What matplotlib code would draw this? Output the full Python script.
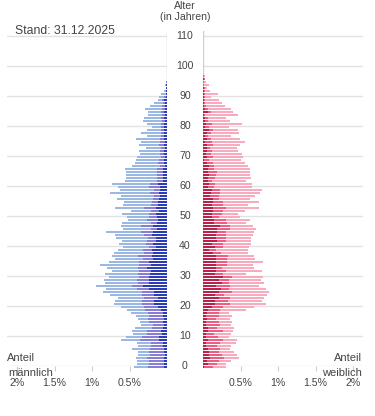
"""Bevölkerungspyramide (Stand 31.12.2025) – Anteile je Altersjahr, männlich/weiblich."""
import matplotlib
matplotlib.use("Agg")
import matplotlib.pyplot as plt
from matplotlib.transforms import blended_transform_factory

plt.rcParams["font.family"] = ["Liberation Sans", "DejaVu Sans"]

# ── Daten (Anteil in %, Altersjahre 0..95 bzw. 0..97) ──
ages_m = list(range(0, 96))
ages_w = list(range(0, 98))

# männlich: Gesamtlänge, innerstes Segment, mittleres Segment
male_total = [
    0.44, 0.40, 0.40, 0.41, 0.39, 0.39, 0.47, 0.39, 0.40, 0.61,
    0.55, 0.45, 0.47, 0.43, 0.35, 0.36, 0.39, 0.41, 0.48, 0.53,
    0.61, 0.71, 0.69, 0.65, 0.76, 0.85, 0.81, 0.95, 0.83, 0.84,
    0.77, 0.83, 0.73, 0.80, 0.89, 0.77, 0.69, 0.73, 0.71, 0.65,
    0.59, 0.64, 0.60, 0.68, 0.69, 0.81, 0.59, 0.61, 0.60, 0.52,
    0.53, 0.60, 0.48, 0.69, 0.59, 0.57, 0.67, 0.61, 0.76, 0.63,
    0.65, 0.73, 0.56, 0.55, 0.55, 0.55, 0.56, 0.47, 0.43, 0.41,
    0.40, 0.36, 0.37, 0.28, 0.37, 0.35, 0.41, 0.27, 0.35, 0.27,
    0.20, 0.27, 0.32, 0.31, 0.25, 0.25, 0.29, 0.23, 0.17, 0.12,
    0.11, 0.08, 0.04, 0.02, 0.03, 0.01,
]
male_inner = [
    0.04, 0.04, 0.04, 0.04, 0.03, 0.04, 0.04, 0.05, 0.05, 0.11,
    0.11, 0.07, 0.08, 0.05, 0.04, 0.05, 0.04, 0.05, 0.05, 0.08,
    0.12, 0.17, 0.17, 0.12, 0.17, 0.17, 0.24, 0.32, 0.24, 0.24,
    0.24, 0.23, 0.21, 0.27, 0.21, 0.24, 0.19, 0.20, 0.19, 0.20,
    0.15, 0.19, 0.15, 0.15, 0.20, 0.19, 0.13, 0.19, 0.13, 0.12,
    0.13, 0.15, 0.11, 0.15, 0.12, 0.12, 0.11, 0.09, 0.11, 0.09,
    0.09, 0.12, 0.05, 0.05, 0.05, 0.05, 0.05, 0.03, 0.04, 0.04,
    0.03, 0.04, 0.04, 0.03, 0.04, 0.03, 0.04, 0.04, 0.04, 0.04,
    0.04, 0.04, 0.03, 0.04, 0.03, 0.04, 0.03, 0.03, 0.03, 0.04,
    0.01, 0.01, 0.01, 0.01, 0.01, 0.00,
]
male_middle = [
    0.21, 0.20, 0.20, 0.23, 0.20, 0.20, 0.19, 0.16, 0.16, 0.25,
    0.23, 0.20, 0.19, 0.15, 0.15, 0.19, 0.21, 0.19, 0.20, 0.21,
    0.19, 0.16, 0.16, 0.19, 0.16, 0.16, 0.16, 0.15, 0.15, 0.16,
    0.13, 0.16, 0.16, 0.12, 0.16, 0.13, 0.13, 0.19, 0.12, 0.12,
    0.09, 0.09, 0.12, 0.11, 0.11, 0.16, 0.08, 0.16, 0.08, 0.15,
    0.11, 0.09, 0.11, 0.16, 0.09, 0.08, 0.08, 0.08, 0.12, 0.08,
    0.15, 0.11, 0.09, 0.09, 0.09, 0.09, 0.08, 0.07, 0.08, 0.07,
    0.05, 0.05, 0.05, 0.05, 0.07, 0.07, 0.05, 0.04, 0.04, 0.04,
    0.04, 0.04, 0.04, 0.04, 0.04, 0.04, 0.04, 0.04, 0.03, 0.03,
    0.03, 0.01, 0.01, 0.01, 0.01, 0.01,
]

# weiblich
female_total = [
    0.31, 0.31, 0.37, 0.48, 0.45, 0.41, 0.36, 0.37, 0.44, 0.45,
    0.35, 0.37, 0.40, 0.41, 0.37, 0.39, 0.36, 0.39, 0.35, 0.57,
    0.68, 0.84, 0.79, 0.81, 0.85, 0.88, 0.84, 0.75, 0.81, 0.77,
    0.80, 0.57, 0.79, 0.68, 0.67, 0.80, 0.69, 0.68, 0.60, 0.60,
    0.61, 0.64, 0.64, 0.64, 0.67, 0.68, 0.71, 0.67, 0.57, 0.63,
    0.49, 0.47, 0.56, 0.75, 0.60, 0.75, 0.63, 0.69, 0.76, 0.79,
    0.65, 0.65, 0.57, 0.64, 0.63, 0.63, 0.63, 0.60, 0.56, 0.51,
    0.53, 0.52, 0.47, 0.45, 0.49, 0.56, 0.49, 0.37, 0.48, 0.47,
    0.35, 0.52, 0.36, 0.31, 0.47, 0.40, 0.37, 0.29, 0.25, 0.21,
    0.11, 0.20, 0.09, 0.05, 0.08, 0.04, 0.02, 0.03,
]
female_inner = [
    0.01, 0.07, 0.05, 0.09, 0.08, 0.08, 0.07, 0.04, 0.04, 0.07,
    0.04, 0.04, 0.07, 0.07, 0.04, 0.04, 0.05, 0.04, 0.05, 0.07,
    0.12, 0.16, 0.16, 0.21, 0.16, 0.21, 0.24, 0.17, 0.25, 0.21,
    0.27, 0.16, 0.17, 0.17, 0.17, 0.17, 0.17, 0.17, 0.13, 0.08,
    0.16, 0.12, 0.19, 0.17, 0.17, 0.19, 0.19, 0.23, 0.15, 0.15,
    0.12, 0.12, 0.13, 0.13, 0.12, 0.13, 0.13, 0.09, 0.11, 0.12,
    0.07, 0.08, 0.07, 0.07, 0.08, 0.07, 0.07, 0.08, 0.05, 0.01,
    0.05, 0.04, 0.05, 0.05, 0.05, 0.03, 0.05, 0.03, 0.05, 0.08,
    0.03, 0.04, 0.03, 0.03, 0.01, 0.07, 0.03, 0.01, 0.01, 0.01,
    0.01, 0.01, 0.01, 0.01, 0.00, 0.00, 0.01, 0.00,
]
female_middle = [
    0.12, 0.12, 0.16, 0.19, 0.17, 0.13, 0.16, 0.15, 0.19, 0.20,
    0.16, 0.11, 0.19, 0.12, 0.19, 0.17, 0.12, 0.17, 0.16, 0.16,
    0.15, 0.20, 0.17, 0.15, 0.12, 0.17, 0.11, 0.19, 0.09, 0.13,
    0.11, 0.11, 0.13, 0.08, 0.15, 0.15, 0.15, 0.16, 0.11, 0.09,
    0.11, 0.15, 0.12, 0.13, 0.13, 0.12, 0.17, 0.13, 0.17, 0.16,
    0.09, 0.13, 0.13, 0.17, 0.15, 0.13, 0.08, 0.12, 0.11, 0.11,
    0.08, 0.08, 0.05, 0.09, 0.09, 0.11, 0.08, 0.07, 0.08, 0.07,
    0.08, 0.07, 0.07, 0.04, 0.08, 0.09, 0.05, 0.04, 0.05, 0.05,
    0.05, 0.08, 0.03, 0.03, 0.01, 0.04, 0.03, 0.03, 0.01, 0.01,
    0.01, 0.01, 0.01, 0.01, 0.01, 0.01, 0.01, 0.01,
]

age_ticks = list(range(0, 111, 10))
share_ticks = [0.5, 1.0, 1.5, 2.0]
share_labels = ["0.5%", "1%", "1.5%", "2%"]

MALE_COLORS = ["#9bb7e3", "#877dd7", "#2c3cb4"]     # außen, mitte, innen
FEMALE_COLORS = ["#f8aabe", "#eb5f82", "#b4234b"]
GRID = "#e2e2e2"
TXT = "#444444"

W, H = 375, 416
fig = plt.figure(figsize=(W / 100, H / 100), dpi=100)
# Achsen in Pixeln: links 7..167, rechts 203..363, Alter 0 bei y=366, 110 bei y=36
ax_l = fig.add_axes([7 / W, (H - 366) / H, 160 / W, 335 / H])
ax_r = fig.add_axes([203 / W, (H - 366) / H, 160 / W, 335 / H])

XMAX = 160 / 75          # 0.5 % = 37.5 px
YMAX = 335 / 3           # 3 px je Altersjahr
BAR_H, BAR_OFF = 0.67, 0.36


def draw_side(ax, ages, total, inner, middle, colors):
    inner_mid = [a + b for a, b in zip(inner, middle)]
    y = [a - BAR_OFF for a in ages]
    ax.barh(y, total, height=BAR_H, color=colors[0], lw=0, clip_on=False, zorder=2)
    ax.barh(y, inner_mid, height=BAR_H, color=colors[1], lw=0, clip_on=False, zorder=3)
    ax.barh(y, inner, height=BAR_H, color=colors[2], lw=0, clip_on=False, zorder=4)
    for t in age_ticks:
        ax.axhline(t, color=GRID, lw=1.0, zorder=1)
    ax.set_ylim(0, YMAX)
    ax.set_yticks([])
    ax.set_xticks(share_ticks)
    ax.set_xticklabels(share_labels, fontsize=7.6, color=TXT)
    ax.tick_params(axis="x", length=3.8, width=0.8, color="#cfcfcf", pad=5)
    for s in ("top", "bottom", "left", "right"):
        ax.spines[s].set_visible(False)


draw_side(ax_l, ages_m, male_total, male_inner, male_middle, MALE_COLORS)
draw_side(ax_r, ages_w, female_total, female_inner, female_middle, FEMALE_COLORS)
ax_l.set_xlim(XMAX, 0)
ax_r.set_xlim(0, XMAX)
ax_l.axvline(0, color="#cfcfcf", lw=1.0, zorder=1)
ax_r.axvline(0, color="#cfcfcf", lw=1.0, zorder=1)

# Alterslabels in der Mitte
tr = blended_transform_factory(fig.transFigure, ax_r.transData)
for t in age_ticks:
    fig.text(185 / W, t, str(t), transform=tr, ha="center", va="center",
             fontsize=7.6, color=TXT)

fig.text(185 / W, 1 - 6 / H, "Alter", ha="center", va="center", fontsize=7.6, color=TXT)
fig.text(185 / W, 1 - 17.5 / H, "(in Jahren)", ha="center", va="center", fontsize=7.6, color=TXT)
fig.text(15 / W, 1 - 31 / H, "Stand: 31.12.2025", ha="left", va="center", fontsize=8.8, color=TXT)

fig.text(7 / W, 1 - 358 / H, "Anteil", ha="left", va="center", fontsize=8, color=TXT)
fig.text(8 / W, 1 - 372.5 / H, "männlich", ha="left", va="center", fontsize=8, color=TXT)
fig.text(362 / W, 1 - 358 / H, "Anteil", ha="right", va="center", fontsize=8, color=TXT)
fig.text(362 / W, 1 - 372.5 / H, "weiblich", ha="right", va="center", fontsize=8, color=TXT)

fig.savefig("out.png", dpi=100)
